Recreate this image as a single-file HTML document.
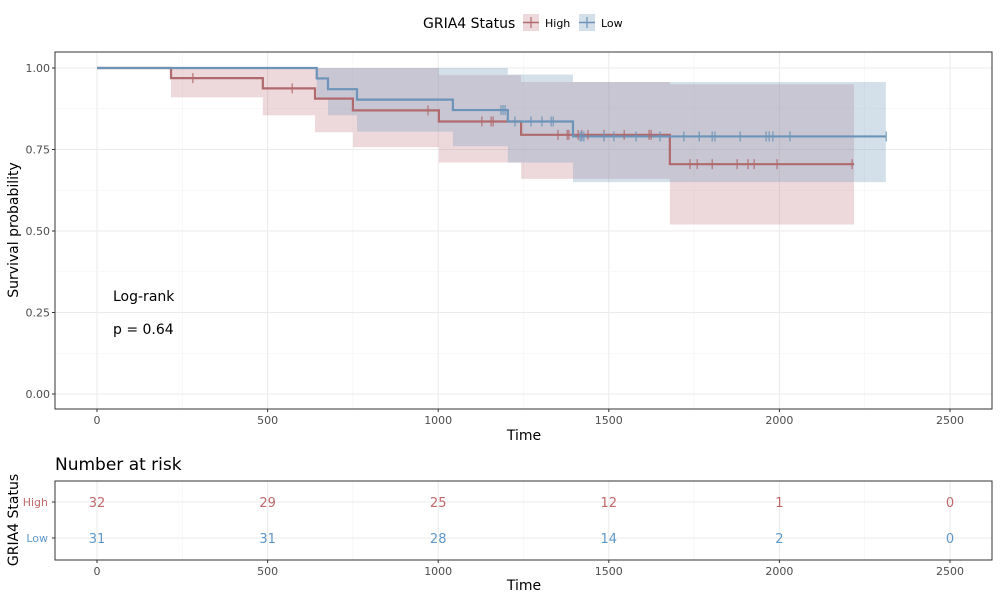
<!DOCTYPE html>
<html><head><meta charset="utf-8"><style>
body{margin:0;background:#fff;font-family:"Liberation Sans","DejaVu Sans",sans-serif}
svg text{font-family:"DejaVu Sans","Liberation Sans",sans-serif}
</style></head><body>
<svg id="c" width="1000" height="600" xmlns="http://www.w3.org/2000/svg"></svg>
<script>
const xTicks=[0,500,1000,1500,2000,2500];
const yTicks=[0,0.25,0.5,0.75,1.0];
const yTickLabels=["0.00","0.25","0.50","0.75","1.00"];
const highTimes=[0,217,486,639,750,1002,1243,1679,2219];
const highSurv=[1,0.969,0.9375,0.906,0.87,0.836,0.795,0.705,0.705];
const highLower=[1,0.91,0.855,0.803,0.757,0.71,0.66,0.52,0.52];
const highUpper=[1,1,1,1,1,0.978,0.957,0.95,0.95];
const highCensor=[281,572,970,1128,1155,1161,1351,1378,1383,1410,1421,1439,1486,1545,1618,1624,1738,1759,1803,1876,1908,1926,1993,2213];
const lowTimes=[0,644,677,762,1043,1204,1395,2312];
const lowSurv=[1,0.968,0.935,0.903,0.871,0.836,0.79,0.79];
const lowLower=[1,0.905,0.855,0.805,0.76,0.71,0.65,0.65];
const lowUpper=[1,1,1,1,1,0.98,0.957,0.957];
const lowCensor=[1184,1190,1196,1225,1272,1304,1331,1337,1416,1421,1427,1486,1515,1580,1650,1720,1765,1803,1811,1885,1961,1970,1981,2031,2313];
const riskTimes=[0,500,1000,1500,2000,2500];
const riskHigh=[32,29,25,12,1,0];
const riskLow=[31,31,28,14,2,0];
const HC="#b06a6e",LC="#6c94b8";
const HT="#c0696c",LT="#5f98c8";
const svg=document.getElementById('c');const NS="http://www.w3.org/2000/svg";
function el(t,a,p){const e=document.createElementNS(NS,t);for(const k in a)e.setAttribute(k,a[k]);(p||svg).appendChild(e);return e;}
const X=d=>97+d*(950-97)/2500;
const Y=v=>394-v*326;
const pL=55,pR=992,pT=52,pB=409;
const bg=el('rect',{x:pL,y:pT,width:pR-pL,height:pB-pT,fill:'#fff'});

for(let i=0;i<xTicks.length;i++){const x=X(xTicks[i]);
 el('line',{x1:x,x2:x,y1:pT,y2:pB,stroke:'#ebebeb','stroke-width':1.1});
 if(i<xTicks.length-1){const m=X((xTicks[i]+xTicks[i+1])/2);el('line',{x1:m,x2:m,y1:pT,y2:pB,stroke:'#f3f3f3','stroke-width':0.6});}
 const t=el('text',{x:x,y:424,'font-size':11,fill:'#4d4d4d','text-anchor':'middle'});t.textContent=xTicks[i];
 }
for(let i=0;i<yTicks.length;i++){const y=Y(yTicks[i]);
 el('line',{x1:pL,x2:pR,y1:y,y2:y,stroke:'#ebebeb','stroke-width':1.1});
 if(i<yTicks.length-1){const m=Y((yTicks[i]+yTicks[i+1])/2);el('line',{x1:pL,x2:pR,y1:m,y2:m,stroke:'#f3f3f3','stroke-width':0.6});}
 el('line',{x1:pL-3,x2:pL,y1:y,y2:y,stroke:'#333'});
 const t=el('text',{x:pL-5,y:y+4,'font-size':11,fill:'#4d4d4d','text-anchor':'end'});t.textContent=yTickLabels[i];
 }
function ribbon(times,lo,up,fill,name){
 for(let i=0;i<times.length-1;i++){const r=el('rect',{x:X(times[i]),y:Y(up[i]),width:X(times[i+1])-X(times[i]),height:Y(lo[i])-Y(up[i]),fill:fill});
 }}
ribbon(highTimes,highLower,highUpper,'rgba(190,120,125,0.28)','ci-high');
ribbon(lowTimes,lowLower,lowUpper,'rgba(120,160,190,0.33)','ci-low');
function curve(times,s,col,name){let d=`M${X(times[0])},${Y(s[0])}`;
 for(let i=1;i<times.length;i++){d+=`H${X(times[i])}V${Y(s[i])}`;}
 const p=el('path',{d:d,fill:'none',stroke:col,'stroke-width':2.2});
 }
function survAt(times,s,t){let v=s[0];for(let i=0;i<times.length;i++){if(times[i]<=t)v=s[i];}return v;}
function censor(times,s,cs,col,name){for(const c of cs){const x=X(c),y=Y(survAt(times,s,c));
 const l=el('line',{x1:x,x2:x,y1:y-5,y2:y+5,stroke:col,'stroke-width':1.1});
 }}
curve(highTimes,highSurv,HC,'curve-high');curve(lowTimes,lowSurv,LC,'curve-low');
censor(highTimes,highSurv,highCensor,HC,'censor-high');censor(lowTimes,lowSurv,lowCensor,LC,'censor-low');
el('rect',{x:pL,y:pT,width:pR-pL,height:pB-pT,fill:'none',stroke:'#333','stroke-width':1});
for(const x of xTicks)el('line',{x1:X(x),x2:X(x),y1:pB,y2:pB+3,stroke:'#333'});
function txt(s,a,name){const t=el('text',a);t.textContent=s;return t;}
txt('Log-rank',{x:113,y:301,'font-size':14,fill:'#000'},'logrank-label');
txt('p = 0.64',{x:113,y:334,'font-size':14,fill:'#000'},'p-value');
txt('Time',{x:524,y:440,'font-size':14,'text-anchor':'middle'},'x-axis-title');
txt('Survival probability',{x:18,y:230,'font-size':14,'text-anchor':'middle',transform:'rotate(-90 18 230)'},'y-axis-title');
txt('GRIA4 Status',{x:423,y:28,'font-size':14},'legend-title');
const lg=[['High',523,HC,'rgba(190,120,125,0.28)'],['Low',579,LC,'rgba(120,160,190,0.33)']];
for(const [n,x,c,f] of lg){const g=el('g',{});
 el('rect',{x:x,y:14,width:16,height:17,fill:f},g);el('line',{x1:x,x2:x+16,y1:22.5,y2:22.5,stroke:c,'stroke-width':1.5},g);
 el('line',{x1:x+8,x2:x+8,y1:17,y2:28,stroke:c,'stroke-width':1.2},g);
 const t=el('text',{x:x+22,y:27,'font-size':11},g);t.textContent=n;}
txt('Number at risk',{x:55,y:470,'font-size':17},'risk-table-title');
const rT=481,rB=560;
el('rect',{x:pL,y:rT,width:pR-pL,height:rB-rT,fill:'#fff'});
for(let i=0;i<xTicks.length;i++){const x=X(xTicks[i]);el('line',{x1:x,x2:x,y1:rT,y2:rB,stroke:'#ebebeb','stroke-width':1.1});
 if(i<xTicks.length-1){const m=X((xTicks[i]+xTicks[i+1])/2);el('line',{x1:m,x2:m,y1:rT,y2:rB,stroke:'#f3f3f3','stroke-width':0.6});}
 el('line',{x1:x,x2:x,y1:rB,y2:rB+3,stroke:'#333'});
 txt(xTicks[i],{x:x,y:575,'font-size':11,fill:'#4d4d4d','text-anchor':'middle'},'risk-x-tick');}
for(const y of [502,538])el('line',{x1:pL,x2:pR,y1:y,y2:y,stroke:'#ebebeb','stroke-width':1.1});
el('rect',{x:pL,y:rT,width:pR-pL,height:rB-rT,fill:'none',stroke:'#333','stroke-width':1});
for(let i=0;i<riskTimes.length;i++){
 txt(riskHigh[i],{x:X(riskTimes[i]),y:507,'font-size':13,fill:HT,'text-anchor':'middle'},'risk-high-value');
 txt(riskLow[i],{x:X(riskTimes[i]),y:543,'font-size':13,fill:LT,'text-anchor':'middle'},'risk-low-value');}
txt('High',{x:48,y:506,'font-size':11,fill:HT,'text-anchor':'end'},'risk-row-high');
txt('Low',{x:48,y:542,'font-size':11,fill:LT,'text-anchor':'end'},'risk-row-low');
el('line',{x1:pL-3,x2:pL,y1:502,y2:502,stroke:'#333'});el('line',{x1:pL-3,x2:pL,y1:538,y2:538,stroke:'#333'});
txt('Time',{x:524,y:590,'font-size':14,'text-anchor':'middle'},'risk-x-axis-title');
txt('GRIA4 Status',{x:18,y:520,'font-size':14,'text-anchor':'middle',transform:'rotate(-90 18 520)'},'risk-y-axis-title');
</script>
</body></html>
